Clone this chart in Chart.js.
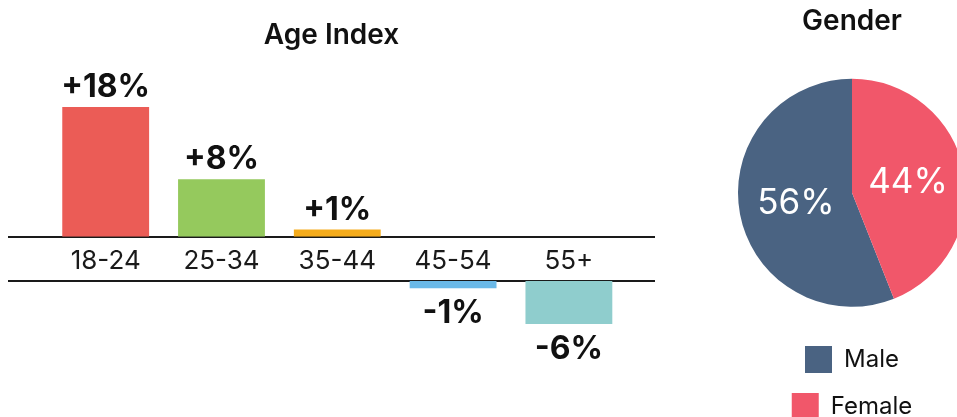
<!DOCTYPE html>
<html>
<head>
<meta charset="utf-8">
<title>Age Index and Gender</title>
<script src="https://cdn.jsdelivr.net/npm/chart.js@4.4.1/dist/chart.umd.min.js"></script>
<style>
  html, body { margin: 0; padding: 0; background: #fff; overflow: hidden; }
  body { width: 957px; height: 417px; position: relative; }
  canvas { position: absolute; }
  #ageTop { left: 0; top: 0; }
  #ageBottom { left: 0; top: 270px; }
  #gender { left: 720px; top: 0; }
</style>
</head>
<body>
<canvas id="ageTop" width="680" height="286"></canvas>
<canvas id="ageBottom" width="680" height="97"></canvas>
<canvas id="gender" width="264" height="430"></canvas>
<script>
// DATA
const ageGroups = ["18-24", "25-34", "35-44", "45-54", "55+"];
const ageIndex = [18, 8, 1, -1, -6];
const ageColors = ["#eb5c56", "#95c95d", "#f5ac1c", "#6ab9e8", "#8fcdcd"];

const genderLabels = ["Male", "Female"];
const genderShares = [56, 44];
const genderColors = ["#4a6382", "#f1576a"];

Chart.defaults.font.family = "Inter, 'Noto Sans', sans-serif";
Chart.defaults.color = "#111";

// positive bars go in the top chart, negative ones in the bottom chart
const topPoints = ageIndex.map((v, i) => ({ x: i, y: v > 0 ? v : null }));
const bottomPoints = ageIndex.map((v, i) => ({ x: i, y: v < 0 ? v : null }));

// same x layout for both halves
function xScale(position, showLabels) {
  return {
    type: "linear",
    position: position,
    min: -0.835,
    max: 4.735,
    offset: false,
    grid: { display: false, drawTicks: false },
    border: { display: true, color: "#1a1a1a", width: 2 },
    ticks: {
      display: showLabels,
      stepSize: 1,
      includeBounds: false,
      autoSkip: false,
      maxRotation: 0,
      padding: 9,
      color: "#1a1a1a",
      font: { size: 26 },
      callback: (v) => ageGroups[v] ?? ""
    }
  };
}

// VALUE LABELS
const barValueLabels = {
  id: "barValueLabels",
  afterDatasetsDraw(chart) {
    const ctx = chart.ctx;
    const points = chart.data.datasets[0].data;
    ctx.save();
    ctx.font = "700 32px Inter, 'Noto Sans', sans-serif";
    ctx.fillStyle = "#111";
    ctx.textAlign = "center";
    ctx.textBaseline = "alphabetic";
    chart.getDatasetMeta(0).data.forEach((bar, i) => {
      const v = points[i].y;
      if (v === null) return;
      const text = (v > 0 ? "+" : "") + v + "%";
      ctx.fillText(text, bar.x, v > 0 ? bar.y - 10 : bar.y + 35);
    });
    ctx.restore();
  }
};

const pieValueLabels = {
  id: "pieValueLabels",
  afterDatasetsDraw(chart) {
    const ctx = chart.ctx;
    ctx.save();
    ctx.font = "400 35px Inter, 'Noto Sans', sans-serif";
    ctx.fillStyle = "#fff";
    ctx.textAlign = "center";
    ctx.textBaseline = "middle";
    chart.getDatasetMeta(0).data.forEach((arc, i) => {
      const p = arc.tooltipPosition();
      ctx.fillText(genderShares[i] + "%", p.x, p.y);
    });
    ctx.restore();
  }
};

// AGE INDEX - TOP (positive)
new Chart(document.getElementById("ageTop"), {
  type: "bar",
  data: {
    datasets: [{
      data: topPoints,
      backgroundColor: ageColors,
      categoryPercentage: 1,
      barPercentage: 0.75
    }]
  },
  options: {
    responsive: false,
    animation: false,
    layout: { padding: { left: 9, right: 26, top: 0, bottom: 0 } },
    plugins: {
      legend: { display: false },
      tooltip: { enabled: false },
      title: {
        display: true,
        text: "Age Index",
        color: "#111",
        font: { size: 28, weight: "600" },
        padding: { top: 19, bottom: 4 }
      }
    },
    scales: {
      x: xScale("bottom", true),
      y: { display: false, min: 0, max: 25 }
    }
  },
  plugins: [barValueLabels]
});

// AGE INDEX - BOTTOM (negative)
new Chart(document.getElementById("ageBottom"), {
  type: "bar",
  data: {
    datasets: [{
      data: bottomPoints,
      backgroundColor: ageColors,
      categoryPercentage: 1,
      barPercentage: 0.75
    }]
  },
  options: {
    responsive: false,
    animation: false,
    layout: { padding: { left: 9, right: 26, top: 11, bottom: 0 } },
    plugins: {
      legend: { display: false },
      tooltip: { enabled: false }
    },
    scales: {
      x: xScale("top", false),
      y: { display: false, min: -12, max: 0 }
    }
  },
  plugins: [barValueLabels]
});

// GENDER PIE
new Chart(document.getElementById("gender"), {
  type: "pie",
  data: {
    labels: genderLabels,
    datasets: [{
      data: genderShares,
      backgroundColor: genderColors,
      borderWidth: 0
    }]
  },
  options: {
    responsive: false,
    animation: false,
    rotation: 360 * genderShares[1] / 100,
    layout: { padding: { left: 18, right: 18, top: 0, bottom: 0 } },
    plugins: {
      title: {
        display: true,
        text: "Gender",
        color: "#111",
        font: { size: 28, weight: "600" },
        padding: { top: 5, bottom: 21 }
      },
      legend: {
        position: "bottom",
        labels: {
          boxWidth: 27,
          boxHeight: 27,
          padding: 20,
          color: "#111",
          font: { size: 24 }
        }
      },
      tooltip: { enabled: false }
    }
  },
  plugins: [pieValueLabels]
});
</script>
</body>
</html>
